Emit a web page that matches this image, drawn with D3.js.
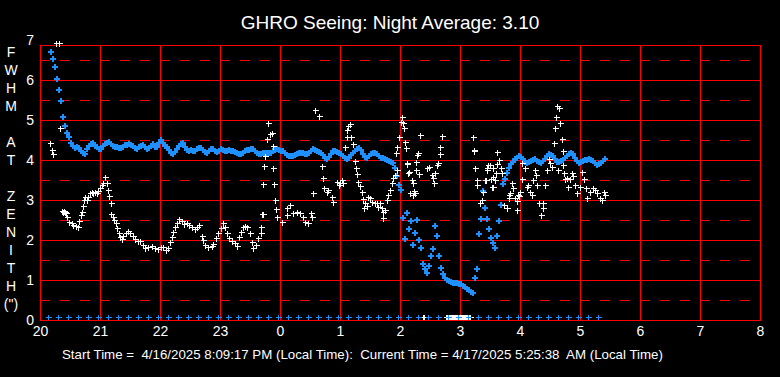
<!DOCTYPE html>
<meta charset="utf-8">
<style>
body { margin: 0; background: #000; }
svg { display: block; font-family: "Liberation Sans", Arial, sans-serif; }
</style>
<svg width="780" height="377"></svg>
<script src="https://d3js.org/d3.v7.min.js"></script>
<script>

var titleText = "GHRO Seeing: Night Average: 3.10";
var footerText = "Start Time =  4/16/2025 8:09:17 PM (Local Time):  Current Time = 4/17/2025 5:25:38  AM (Local Time)";
var yLabelLines = ["F", "W", "H", "M", "", "A", "T", "", "Z", "E", "N", "I", "T", "H", "(\")"];

// hours on a continuous clock (24 = midnight)
var hourTicks = [20, 21, 22, 23, 24, 25, 26, 27, 28, 29, 30, 31, 32];
var hourLabels = ["20", "21", "22", "23", "0", "1", "2", "3", "4", "5", "6", "7", "8"];
var fwhmTicks = [0, 1, 2, 3, 4, 5, 6, 7];
var halfLines = [0.5, 1.5, 2.5, 3.5, 4.5, 5.5, 6.5];

// running average, one value every 2 minutes from 20:10
var avgStartMin = 10;
var avgStepMin = 2;
var avgValues = [
  6.72,6.55,6.35,6.05,5.78,5.5,5.1,4.88,4.69,4.6,
  4.45,4.38,4.33,4.35,4.32,4.25,4.2,4.18,4.3,4.38,
  4.42,4.45,4.38,4.34,4.3,4.3,4.38,4.43,4.46,4.47,
  4.42,4.38,4.36,4.35,4.32,4.33,4.36,4.39,4.4,4.42,
  4.41,4.37,4.33,4.31,4.34,4.38,4.39,4.34,4.3,4.32,
  4.38,4.42,4.36,4.34,4.45,4.52,4.45,4.38,4.35,4.28,
  4.2,4.17,4.22,4.3,4.38,4.43,4.46,4.36,4.27,4.25,
  4.27,4.24,4.26,4.3,4.32,4.33,4.28,4.22,4.19,4.24,
  4.3,4.3,4.25,4.22,4.26,4.29,4.28,4.25,4.25,4.27,
  4.24,4.25,4.22,4.2,4.18,4.17,4.2,4.24,4.27,4.28,
  4.3,4.29,4.25,4.2,4.18,4.17,4.19,4.2,4.21,4.21,
  4.21,4.24,4.27,4.29,4.27,4.25,4.24,4.2,4.15,4.12,
  4.12,4.12,4.14,4.17,4.2,4.21,4.19,4.17,4.17,4.2,
  4.25,4.29,4.28,4.25,4.22,4.21,4.15,4.08,4.04,4.1,
  4.18,4.24,4.25,4.22,4.19,4.18,4.13,4.08,4.04,4.08,
  4.15,4.2,4.25,4.3,4.33,4.27,4.18,4.1,4.08,4.12,
  4.17,4.2,4.21,4.17,4.12,4.08,4.07,4.05,4.02,4.0,
  3.98,3.95,3.83,3.63,3.4,3.27,2.58,2.04,2.71,2.29,
  2.5,1.9,2.2,2.52,2.02,1.83,1.43,1.3,1.21,1.38,
  1.63,1.79,2.38,2.12,1.63,1.33,1.17,1.08,1.03,1.0,
  0.98,0.96,0.95,0.94,0.93,0.92,0.88,0.84,0.8,0.77,
  0.73,0.7,1.08,1.29,2.17,2.54,3.25,2.83,2.54,2.29,
  2.08,1.96,1.83,2.12,2.5,2.9,3.42,3.55,3.71,3.83,
  3.92,3.98,4.05,4.08,4.12,4.1,4.04,3.98,3.96,3.98,
  4.0,4.02,4.04,4.0,3.97,3.96,4.0,4.04,4.12,4.17,
  4.15,4.12,4.05,3.97,3.97,4.0,4.02,4.08,4.12,4.17,
  4.21,4.18,4.08,4.0,3.96,3.97,4.0,4.02,4.03,4.04,
  4.02,4.0,3.94,3.9,3.93,3.96,4.0,4.04
];

// individual measurements: [minutes after 20:00, FWHM]
var samples = [
  [10,4.42],[12,4.25],[13,4.14],[16,6.93],[19,6.93],[20,4.79],
  [22,2.72],[23,2.7],[24,2.72],[25,2.7],[26,2.68],[27,2.58],[29,2.46],[32,2.42],[33,2.38],[36,2.35],
  [38,2.32],[39,2.48],[41,2.63],[42,2.71],[43,2.85],[44,3.0],[45,3.07],[47,3.0],[48,3.08],[50,3.17],
  [52,3.21],[53,3.17],[55,3.21],[57,3.17],[58,3.23],[60,3.29],[62,3.38],[63,3.42],[65,3.57],[67,3.42],
  [68,3.25],[69,3.1],[71,2.92],[71,2.65],[73,2.58],[74,2.5],[76,2.43],[77,2.29],[79,2.18],[80,2.07],
  [82,2.02],[83,2.1],[86,2.17],[88,2.23],[90,2.18],[93,2.1],[95,2.02],[98,1.98],[100,1.98],[103,1.88],
  [105,1.79],[108,1.82],[112,1.85],[115,1.79],[118,1.77],[121,1.82],[123,1.83],[126,1.75],[128,1.79],
  [130,1.96],[132,2.08],[133,2.21],[135,2.32],[137,2.43],[139,2.52],[142,2.48],[144,2.4],[147,2.43],
  [149,2.38],[152,2.32],[155,2.27],[157,2.32],[159,2.38],[162,2.1],[163,2.0],[165,1.88],[168,1.82],
  [172,1.85],[173,1.9],[176,2.04],[178,2.18],[181,2.29],[183,2.42],[185,2.32],[187,2.17],[189,2.04],
  [192,1.98],[195,1.93],[197,1.85],[199,2.07],[201,2.21],[203,2.32],[205,2.35],[207,2.33],[210,2.18],
  [212,1.96],[213,1.79],[216,1.88],[218,2.04],[221,2.17],[221,2.32],[222,2.64],[223,2.65],
  [223,3.4],[224,3.85],[225,4.1],[227,4.52],[228,4.93],[230,4.65],[232,4.68],[233,4.35],[233,3.79],
  [234,3.4],[235,3.0],[236,2.77],[237,2.58],[242,2.46],[247,2.63],[247,2.79],[250,2.88],[253,2.67],
  [257,2.71],[260,2.67],[263,2.57],[265,2.46],[268,2.43],[271,2.67],[272,2.58],[273,3.17],[275,5.25],
  [279,5.1],[282,3.85],[283,3.54],[284,3.29],[287,3.21],[288,3.25],[292,3.08],[293,2.96],[297,3.46],
  [299,3.38],[300,3.42],[302,3.5],[303,3.42],[305,4.32],[307,4.75],[307,4.58],[308,4.85],[310,4.9],
  [311,4.58],[313,4.4],[315,3.98],[316,3.79],[317,3.65],[318,3.46],[320,3.35],[322,3.21],[323,3.02],
  [324,2.79],[325,2.92],[327,2.85],[328,3.08],[330,3.04],[332,2.96],[335,2.93],[337,2.92],[338,2.82],
  [340,2.92],[342,2.79],[343,2.54],[343,2.71],[345,2.75],[347,3.0],[348,3.13],[350,3.25],[352,3.42],
  [353,3.54],[355,3.63],[356,4.17],[357,4.33],[357,3.75],[359,4.57],[361,4.96],[362,5.08],[363,4.93],
  [364,4.79],[365,4.46],[366,4.29],[367,3.93],[367,3.9],[368,3.68],[369,3.71],[370,3.18],[372,3.5],
  [373,3.13],[373,3.42],[374,3.23],[375,3.17],[376,3.96],[376,3.75],[377,4.13],[378,4.18],[379,3.65],
  [380,4.63],[387,3.79],[389,3.83],[392,3.63],[393,3.54],[394,3.42],[395,3.67],[397,3.88],[398,3.93],
  [400,4.32],[400,4.15],[402,4.6],
  [433,4.57],[434,4.25],[434,4.23],[435,3.79],[437,3.5],[437,3.38],[440,2.92],[442,3.0],[443,3.21],
  [445,3.5],[446,3.5],[447,3.75],[447,3.79],[448,3.88],[450,3.88],[451,3.52],[452,3.32],[453,3.32],
  [453,3.79],[453,3.57],[455,3.5],[456,3.67],[457,3.9],[457,4.21],[459,4.0],[461,3.79],[462,3.67],
  [464,2.88],[467,2.79],[469,3.04],[469,3.13],[470,3.17],[472,3.42],[473,3.29],[475,3.04],[477,2.75],
  [477,2.98],[478,3.13],[479,3.1],[480,3.21],[482,3.52],[482,3.93],[485,3.79],[487,3.33],[488,3.38],
  [490,3.21],[492,3.13],[493,3.5],[495,3.75],[496,3.63],[497,3.38],[499,2.92],[501,2.63],[503,2.79],
  [503,2.93],[505,3.38],[507,3.75],[509,4.02],[510,3.92],[512,3.83],[514,4.43],[515,4.79],[516,5.08],
  [517,5.35],[518,3.75],[519,5.29],[520,4.92],[522,4.52],[523,4.23],[523,3.88],[524,3.68],[525,3.52],
  [527,3.54],[528,3.33],[530,3.52],[532,3.67],[533,3.6],[535,3.38],[537,3.17],[540,3.33],[542,3.71],
  [544,3.52],[546,3.29],[547,3.04],[550,3.21],[553,3.29],[555,3.25],[557,3.17],[560,3.04],[562,3.0],
  [564,3.21],[565,3.13]
];

// readings that came back as zero (drawn on the floor of the chart)
var zeroLevel = 0.07;
var sampleZeroMin = [383,384,406,407,408,409,410,411,412,413,414,415,416,417,418,419,420,
  421,422,423,424,425,426,427,428,429,430];
var avgZeroMin = [8,18,28,38,48,58,68,78,88,98,108,118,128,138,148,158,168,178,188,198,
  208,218,228,238,248,258,268,278,288,298,308,318,328,338,348,358,368,378,388,398,
  408,418,428,438,448,458,468,478,488,498,508,518,528,538,548,558];

var svg = d3.select("svg");
var gridRed = "#ff0000", avgBlue = "#1e90ff";

var x = d3.scaleLinear().domain([20, 32]).range([40, 760]);
var y = d3.scaleLinear().domain([0, 7]).range([320, 40]);
var yFrameTop = 6.875;
var minToHour = function(m) { return 20 + m / 60; };
var px = function(v) { return Math.round(v) + 0.5; };

svg.append("rect").attr("width", 780).attr("height", 377).attr("fill", "#000");

// grid
var grid = svg.append("g").attr("stroke", gridRed).attr("shape-rendering", "crispEdges");
grid.selectAll("line.half").data(halfLines).enter().append("line")
  .attr("x1", x(20)).attr("x2", x(32))
  .attr("y1", d => px(y(d))).attr("y2", d => px(y(d)))
  .attr("stroke-dasharray", "10,10");
grid.selectAll("line.h").data(fwhmTicks.slice(0, 7).concat([yFrameTop])).enter().append("line")
  .attr("x1", x(20)).attr("x2", x(32))
  .attr("y1", d => px(y(d))).attr("y2", d => px(y(d)));
grid.selectAll("line.v").data(hourTicks).enter().append("line")
  .attr("x1", d => px(x(d))).attr("x2", d => px(x(d)))
  .attr("y1", y(yFrameTop)).attr("y2", y(0) + 1);

// axis labels
var xAxis = d3.axisBottom(x).tickValues(hourTicks)
  .tickFormat((d, i) => hourLabels[i]).tickSize(0).tickPadding(6);
svg.append("g").attr("transform", "translate(0," + y(0) + ")").call(xAxis)
  .call(g => g.select(".domain").remove())
  .selectAll("text").attr("fill", "#fff").attr("font-size", 14).attr("font-family", null);

var yAxis = d3.axisLeft(y).tickValues(fwhmTicks).tickFormat(d3.format("d"))
  .tickSize(0).tickPadding(6);
svg.append("g").attr("transform", "translate(" + x(20) + ",0)").call(yAxis)
  .call(g => g.select(".domain").remove())
  .selectAll("text").attr("fill", "#fff").attr("font-size", 14).attr("font-family", null);

svg.append("g").selectAll("text").data(yLabelLines).enter().append("text")
  .attr("x", 11).attr("y", (d, i) => 52.5 + i * 18).attr("dy", "0.35em")
  .attr("text-anchor", "middle").attr("fill", "#fff").attr("font-size", 14)
  .text(d => d);

svg.append("text").attr("x", 390).attr("y", 29).attr("text-anchor", "middle")
  .attr("fill", "#fff").attr("font-size", 19).text(titleText);

svg.append("text").attr("x", 62).attr("y", 359).attr("fill", "#fff")
  .attr("font-size", 13.3).style("white-space", "pre").text(footerText);

// markers
svg.append("clipPath").attr("id", "plotClip").append("rect")
  .attr("x", 0).attr("y", 0).attr("width", 780).attr("height", y(0));

var plus = "M-3,0H3M0,-3V3";
var marks = svg.append("g").attr("clip-path", "url(#plotClip)")
  .attr("fill", "none").attr("shape-rendering", "crispEdges");

function drawPlus(g, data, color, width) {
  g.append("g").attr("stroke", color).attr("stroke-width", width)
    .selectAll("path").data(data).enter().append("path")
    .attr("d", plus)
    .attr("transform", d => "translate(" + px(x(d[0])) + "," + px(y(d[1])) + ")");
}

var avgPts = avgValues.map((v, i) => [minToHour(avgStartMin + i * avgStepMin), v]);
drawPlus(marks, avgPts, avgBlue, 2);
drawPlus(marks, samples.map(d => [minToHour(d[0]), d[1]]), "#fff", 1);
drawPlus(marks, sampleZeroMin.map(m => [minToHour(m), zeroLevel]), "#fff", 1);
drawPlus(marks, avgZeroMin.map(m => [minToHour(m), zeroLevel]), avgBlue, 1);

</script>
